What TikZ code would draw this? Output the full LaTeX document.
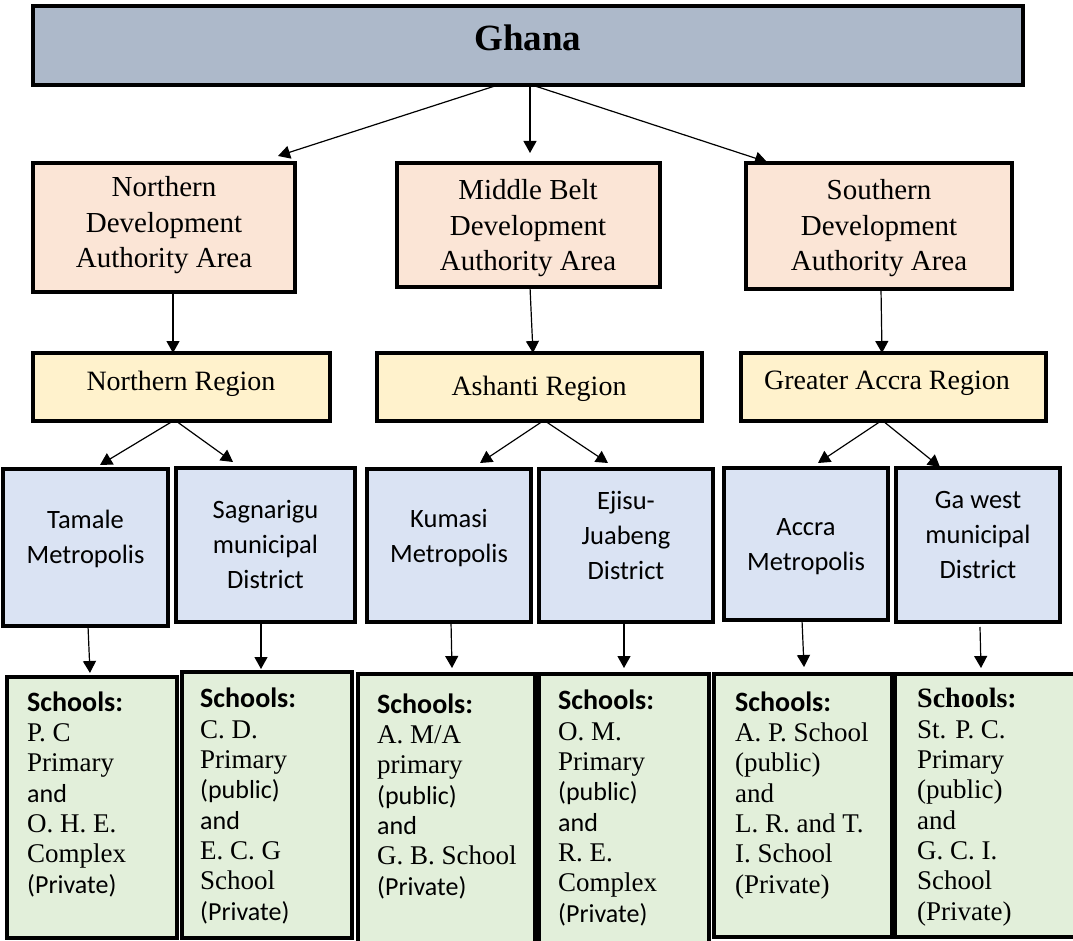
\documentclass[tikz,border=0pt]{standalone}
\usepackage{fontspec}
\setmainfont{Liberation Serif}
\newfontfamily\calib{Carlito}
\usetikzlibrary{arrows.meta}

\definecolor{ghanafill}{HTML}{ADB9CA}
\definecolor{devfill}{HTML}{FBE5D6}
\definecolor{regfill}{HTML}{FFF2CC}
\definecolor{distfill}{HTML}{DAE3F3}
\definecolor{schoolfill}{HTML}{E2EFDA}

\newcommand\schsans{\calib\fontsize{26}{30.3}\selectfont}
\newcommand\schbold{\calib\bfseries\fontsize{28}{30.3}\selectfont}
\newcommand\schboldserif{\bfseries\fontsize{28}{30.3}\selectfont}

\begin{document}
\begin{tikzpicture}[x=1pt,y=-1pt,
  box/.style={draw=black, line width=3.2pt, anchor=north west, inner sep=0pt, outer sep=0pt},
  arr/.style={line width=1.2pt, -{Triangle[width=13pt,length=12pt]}},
  % multi-line texts are placed by the baseline of their last line
  devtext/.style={font=\fontsize{29}{35.5}\selectfont, align=center, anchor=base, inner sep=0pt},
  regtext/.style={font=\fontsize{28}{34}\selectfont, anchor=base, inner sep=0pt},
  disttext/.style={font=\calib\fontsize{26.5}{35}\selectfont, align=center, anchor=base, inner sep=0pt},
  schooltext/.style={font=\fontsize{27}{30.3}\selectfont, align=left, anchor=base west, inner sep=0pt}]
\useasboundingbox (0,0) rectangle (1073,941);
\clip (0,0) rectangle (1073,941);

% country
\node[box, fill=ghanafill, minimum width=990pt, minimum height=79pt] (ghana) at (33,6) {};
\node[anchor=base, inner sep=0pt, font=\bfseries\fontsize{37}{42}\selectfont] (ghanaT) at (528,51) {Ghana};

% development authority areas
\node[box, fill=devfill, minimum width=262pt, minimum height=129pt] (ndev) at (33,163) {};
\node[box, fill=devfill, minimum width=263pt, minimum height=124pt] (mdev) at (397,163) {};
\node[box, fill=devfill, minimum width=266pt, minimum height=126pt] (sdev) at (746,163) {};
\node[devtext] (ndevT) at (164,268) {Northern\\Development\\Authority Area};
\node[devtext] (mdevT) at (528,271) {Middle Belt\\Development\\Authority Area};
\node[devtext] (sdevT) at (879,271) {Southern\\Development\\Authority Area};

% regions
\node[box, fill=regfill, minimum width=297pt, minimum height=68pt] (nreg) at (33,353) {};
\node[box, fill=regfill, minimum width=325pt, minimum height=68pt] (areg) at (377,353) {};
\node[box, fill=regfill, minimum width=305pt, minimum height=68pt] (greg) at (741,353) {};
\node[regtext] (nregT) at (181,390) {Northern Region};
\node[regtext] (aregT) at (539,395) {Ashanti Region};
\node[regtext] (gregT) at (887,389) {Greater Accra Region};

% districts
\node[box, fill=distfill, minimum width=165pt, minimum height=157pt] (tamale) at (3,469) {};
\node[box, fill=distfill, minimum width=179pt, minimum height=154pt] (sagnarigu) at (176,468) {};
\node[box, fill=distfill, minimum width=164pt, minimum height=153pt] (kumasi) at (367,469) {};
\node[box, fill=distfill, minimum width=174pt, minimum height=153pt] (ejisu) at (539,469) {};
\node[box, fill=distfill, minimum width=164pt, minimum height=152pt] (accra) at (724,468) {};
\node[box, fill=distfill, minimum width=164pt, minimum height=154pt] (gawest) at (896,468) {};
\node[disttext] (tamaleT) at (85.5,563) {Tamale\\Metropolis};
\node[disttext] (sagnariguT) at (265.5,588) {Sagnarigu\\municipal\\District};
\node[disttext] (kumasiT) at (449,562) {Kumasi\\Metropolis};
\node[disttext] (ejisuT) at (626,579) {Ejisu-\\Juabeng\\District};
\node[disttext] (accraT) at (806,570) {Accra\\Metropolis};
\node[disttext] (gawestT) at (978,578) {Ga west\\municipal\\District};

% schools
\node[box, fill=schoolfill, minimum width=170pt, minimum height=261pt] (s1) at (7,677) {};
\node[box, fill=schoolfill, minimum width=170pt, minimum height=266pt] (s2) at (182,672) {};
\node[box, fill=schoolfill, minimum width=177pt, minimum height=275pt] (s3) at (358,674) {};
\node[box, fill=schoolfill, minimum width=170pt, minimum height=275pt] (s4) at (539,674) {};
\node[box, fill=schoolfill, minimum width=178pt, minimum height=263pt] (s5) at (714,674) {};
\node[box, fill=schoolfill, minimum width=190pt, minimum height=263pt] (s6) at (895,674) {};

\node[schooltext] (s1T) at (27,893) {{\schbold Schools:}\\P. C\\Primary\\{\schsans and}\\O. H. E.\\Complex\\{\schsans (Private)}};
\node[schooltext] (s2T) at (200,920) {{\schbold Schools:}\\C. D.\\Primary\\{\schsans (public)}\\{\schsans and}\\E. C. G\\School\\{\schsans (Private)}};
\node[schooltext] (s3T) at (377,895) {{\schbold Schools:}\\A. M/A\\primary\\{\schsans (public)}\\{\schsans and}\\G. B. School\\{\schsans (Private)}};
\node[schooltext] (s4T) at (558,922) {{\schbold Schools:}\\O. M.\\Primary\\{\schsans (public)}\\{\schsans and}\\R. E.\\Complex\\{\schsans (Private)}};
\node[schooltext] (s5T) at (735,893) {{\schbold Schools:}\\A. P. School\\(public)\\and\\L. R. and T.\\I. School\\(Private)};
\node[schooltext] (s6T) at (917,920) {{\schboldserif Schools:}\\St. P. C.\\Primary\\(public)\\and\\G. C. I.\\School\\(Private)};

% connectors
\draw[arr] ([xshift=-30pt]ghana.south) -- ([xshift=-17pt,yshift=7pt]ndev.north east);
\draw[arr] ([xshift=2pt]ghana.south) -- ([xshift=1.5pt,yshift=10pt]mdev.north);
\draw[arr] ([xshift=4pt]ghana.south) -- ([xshift=21pt,yshift=1pt]sdev.north west);

\draw[arr] ([xshift=9pt]ndev.south) -- ([xshift=-8.5pt]nreg.north);
\draw[arr] ([xshift=1.5pt]mdev.south) -- ([xshift=-6.5pt]areg.north);
\draw[arr] ([xshift=2pt]sdev.south) -- ([xshift=-11.5pt]greg.north);

\draw[arr] ([xshift=-8.5pt]nreg.south) -- ([xshift=14.5pt,yshift=4pt]tamale.north);
\draw[arr] ([xshift=-5.5pt]nreg.south) -- ([xshift=-32.5pt,yshift=6pt]sagnarigu.north);
\draw[arr] ([xshift=3.5pt]areg.south) -- ([xshift=31pt,yshift=6pt]kumasi.north);
\draw[arr] ([xshift=5.5pt]areg.south) -- ([xshift=-18pt,yshift=6pt]ejisu.north);
\draw[arr] ([xshift=-12.5pt]greg.south) -- ([xshift=12pt,yshift=5pt]accra.north);
\draw[arr] ([xshift=-10.5pt]greg.south) -- ([xshift=-38pt,yshift=1pt]gawest.north);

\draw[arr] ([xshift=2.5pt]tamale.south) -- ([xshift=-2pt,yshift=4pt]s1.north);
\draw[arr] ([xshift=-4.5pt]sagnarigu.south) -- ([xshift=-6pt,yshift=3pt]s2.north);
\draw[arr] ([xshift=2pt]kumasi.south) -- ([xshift=5.5pt,yshift=6pt]s3.north);
\draw[arr] ([xshift=-2pt]ejisu.south) -- ([yshift=6pt]s4.north);
\draw[arr] ([xshift=-4pt]accra.south) -- ([xshift=1pt,yshift=7pt]s5.north);
\draw[arr] ([xshift=2pt,yshift=-5pt]gawest.south) -- ([xshift=-9pt,yshift=6pt]s6.north);
\end{tikzpicture}
\end{document}
